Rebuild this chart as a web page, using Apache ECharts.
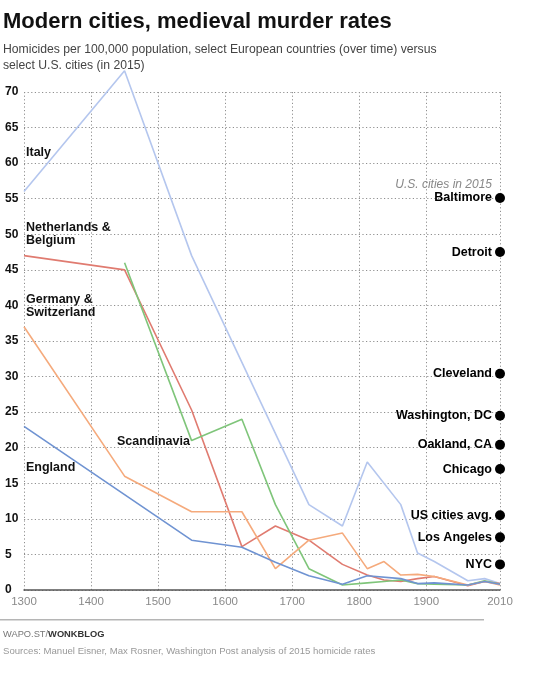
<!DOCTYPE html>
<html>
<head>
<meta charset="utf-8">
<script src="https://cdn.jsdelivr.net/npm/echarts@6/dist/echarts.min.js"></script>
<style>
html,body{margin:0;padding:0;background:#fff;}
#chart{width:550px;height:679px;}
</style>
</head>
<body>
<div id="chart"></div>
<script>
// ---- Data ----
const xTicks = [1300, 1400, 1500, 1600, 1700, 1800, 1900, 2010];
const yTicks = [0, 5, 10, 15, 20, 25, 30, 35, 40, 45, 50, 55, 60, 65, 70];

const italyYears = [1300, 1450, 1550, 1725, 1775, 1812, 1862, 1887, 1912, 1962, 1987, 2010];
const italyVals  = [56, 73, 47, 12, 9, 18, 12, 5.2, 4, 1.3, 1.6, 0.9];

const nlYears = [1300, 1450, 1550, 1625, 1675, 1725, 1775, 1812, 1837, 1862, 1887, 1912, 1962, 1987, 2010];
const nlVals  = [47, 45, 25.3, 6.1, 9, 7, 3.6, 2.1, 1.4, 1.2, 1.6, 1.9, 0.6, 1.2, 0.9];

const scYears = [1450, 1550, 1625, 1675, 1725, 1775, 1812, 1837, 1862, 1887, 1912, 1962, 1987, 2010];
const scVals  = [46, 21, 24, 12, 3, 0.7, 1.0, 1.2, 1.4, 0.9, 0.8, 0.7, 1.3, 0.8];

const deYears = [1300, 1450, 1550, 1625, 1675, 1725, 1775, 1812, 1837, 1862, 1887, 1912, 1962, 1987, 2010];
const deVals  = [37, 16, 11, 11, 3, 7, 8, 3, 4, 2.1, 2.2, 1.9, 0.7, 1.2, 0.7];

const enYears = [1300, 1550, 1625, 1675, 1725, 1775, 1812, 1862, 1887, 1912, 1962, 1987, 2010];
const enVals  = [23, 7, 6, 3.9, 2, 0.8, 2.0, 1.6, 0.9, 1.0, 0.7, 1.2, 0.8];

const cityYear = 2010;
const cityNames = ['Baltimore', 'Detroit', 'Cleveland', 'Washington, DC', 'Oakland, CA', 'Chicago', 'US cities avg.', 'Los Angeles', 'NYC'];
const cityVals  = [55.1, 47.5, 30.4, 24.5, 20.4, 17.0, 10.5, 7.4, 3.6];

// ---- Build chart ----
const FONT = '"Liberation Sans", Arial, sans-serif';
function pairs(xs, ys) { return xs.map((x, i) => [x, ys[i]]); }
function lineSeries(name, xs, ys, color) {
  return {
    name: name, type: 'line', data: pairs(xs, ys), showSymbol: false, clip: false,
    lineStyle: { color: color, width: 1.6 }, itemStyle: { color: color }, z: 3
  };
}

const chart = echarts.init(document.getElementById('chart'), null, { renderer: 'canvas' });

const option = {
  animation: false,
  backgroundColor: '#fff',
  grid: { left: 24, right: 50, top: 92, bottom: 89, containLabel: false },
  xAxis: {
    type: 'value', min: 1300, max: 2010,
    axisLine: { show: true, lineStyle: { color: '#555', width: 1.5 } },
    axisTick: { show: false, customValues: xTicks },
    axisLabel: {
      customValues: xTicks, color: '#8a8a8a', fontFamily: FONT, fontSize: 11.5, margin: 6,
      formatter: v => String(v)
    },
    splitLine: { show: true, lineStyle: { color: '#8f8f8f', type: [1.2, 2.4], width: 1 } }
  },
  yAxis: {
    type: 'value', min: 0, max: 70, interval: 5,
    axisLine: { show: false }, axisTick: { show: false },
    axisLabel: {
      color: '#111', fontWeight: 'bold', fontFamily: FONT, fontSize: 12,
      align: 'left', margin: 19
    },
    splitLine: { show: true, lineStyle: { color: '#8f8f8f', type: [1.2, 2.4], width: 1 } }
  },
  series: [
    lineSeries('Italy', italyYears, italyVals, '#b4c6ee'),
    lineSeries('Netherlands & Belgium', nlYears, nlVals, '#e07b70'),
    lineSeries('Scandinavia', scYears, scVals, '#7fc57a'),
    lineSeries('Germany & Switzerland', deYears, deVals, '#f5aa7c'),
    lineSeries('England', enYears, enVals, '#6f93d2'),
    {
      name: 'U.S. cities', type: 'scatter', clip: false, z: 5,
      data: cityVals.map((v, i) => ({ value: [cityYear, v], name: cityNames[i] })),
      symbolSize: 10, itemStyle: { color: '#000', opacity: 1 },
      label: {
        show: true, position: 'left', distance: 3, formatter: p => p.name,
        color: '#000', fontWeight: 'bold', fontFamily: FONT, fontSize: 12.5
      }
    }
  ],
  graphic: [
    { type: 'text', left: 3, top: 11, style: { text: 'Modern cities, medieval murder rates', font: 'bold 22px ' + FONT, fill: '#111' } },
    { type: 'text', left: 3, top: 41, style: { text: 'Homicides per 100,000 population, select European countries (over time) versus\nselect U.S. cities (in 2015)', font: '12.2px ' + FONT, fill: '#444', lineHeight: 16.5 } },
    { type: 'text', left: 26, top: 146, style: { text: 'Italy', font: 'bold 12.5px ' + FONT, fill: '#111' } },
    { type: 'text', left: 26, top: 221, style: { text: 'Netherlands &\nBelgium', font: 'bold 12.5px ' + FONT, fill: '#111', lineHeight: 13 } },
    { type: 'text', left: 26, top: 293, style: { text: 'Germany &\nSwitzerland', font: 'bold 12.5px ' + FONT, fill: '#111', lineHeight: 13 } },
    { type: 'text', left: 117, top: 435, style: { text: 'Scandinavia', font: 'bold 12.5px ' + FONT, fill: '#111' } },
    { type: 'text', left: 26, top: 461, style: { text: 'England', font: 'bold 12.5px ' + FONT, fill: '#111' } },
    { type: 'text', right: 58, top: 179, style: { text: 'U.S. cities in 2015', font: 'italic 12px ' + FONT, fill: '#888' } },
    { type: 'rect', left: 0, top: 619, shape: { width: 484, height: 1.5 }, style: { fill: '#b5b5b5' } },
    { type: 'text', left: 3, top: 630, style: {
        text: '{a|WAPO.ST/}{b|WONKBLOG}',
        rich: { a: { font: '9.3px ' + FONT, fill: '#777' }, b: { font: 'bold 9.3px ' + FONT, fill: '#333' } }
    } },
    { type: 'text', left: 3, top: 646, style: { text: 'Sources: Manuel Eisner, Max Rosner, Washington Post analysis of 2015 homicide rates', font: '9.6px ' + FONT, fill: '#999' } }
  ]
};
chart.setOption(option);
</script>
</body>
</html>
